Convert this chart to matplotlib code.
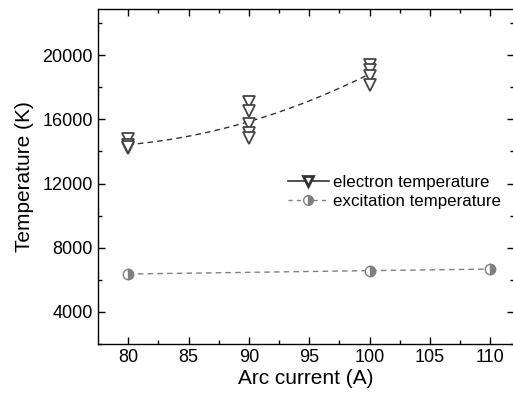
import numpy as np
import matplotlib.pyplot as plt
from matplotlib.lines import Line2D

plt.rcParams['font.family'] = ['Liberation Sans', 'DejaVu Sans']

# electron temperature, several measurements per current
te_current = [80, 80, 80, 80, 90, 90, 90, 90, 90, 100, 100, 100, 100]
te_values = [14800, 14400, 14200, 14300, 17070, 16530, 15740, 15130, 14830,
             19390, 19090, 18710, 18120]

# excitation temperature
tx_current = [80, 100, 110]
tx_values = [6360, 6570, 6670]

fig = plt.figure(figsize=(5.13, 3.94), dpi=100)
ax = fig.add_axes([0.191, 0.127, 0.8117, 0.851])

# quadratic fit through electron temperature points
coef = np.polyfit(te_current, te_values, 2)
xf = np.linspace(80, 100, 100)
ax.plot(xf, np.polyval(coef, xf), ls=(0, (4, 3)), color='#333333', lw=1.0)
ax.plot(te_current, te_values, ls='none', marker='v', ms=8, mfc='white',
        mec='#454545', mew=1.3)

ax.plot(tx_current, tx_values, ls=(0, (4, 3)), color='#808080', lw=1.0,
        marker='o', ms=7.5, fillstyle='right', mfc='#808080', mfcalt='white',
        mec='#808080', mew=1.0)

ax.set_xlim(77.5, 112)
ax.set_ylim(2600, 22900)
ax.set_xticks([80, 85, 90, 95, 100, 105, 110])
ax.set_xticks(np.arange(82.5, 112, 5), minor=True)
ax.set_yticks([4000, 8000, 12000, 16000, 20000])
ax.set_yticks([2000 + 4000 * i for i in range(6)], minor=True)
ax.tick_params(which='both', direction='in', top=True, right=True,
               labelsize=13, width=1.0)
ax.tick_params(which='major', length=5)
ax.tick_params(which='minor', length=3)
for s in ax.spines.values():
    s.set_linewidth(1.0)

ax.set_xlabel('Arc current (A)', fontsize=15, labelpad=2)
ax.set_ylabel('Temperature (K)', fontsize=15, labelpad=6)

handles = [
    Line2D([], [], color='#333333', lw=1.2, marker='v', ms=6.5, mfc='white',
           mec='#333333', mew=2),
    Line2D([], [], color='#808080', lw=1.0, ls=(0, (3, 3)), marker='o', ms=7,
           fillstyle='right', mfc='#808080', mfcalt='white', mec='#808080'),
]
ax.legend(handles, ['electron temperature', 'excitation temperature'],
          loc='center left', bbox_to_anchor=(0.545, 0.513),
          bbox_transform=fig.transFigure, frameon=False, fontsize=12.2,
          handlelength=2.4, handletextpad=0.25, labelspacing=0.25,
          borderpad=0)

fig.savefig('out.png', dpi=100)
